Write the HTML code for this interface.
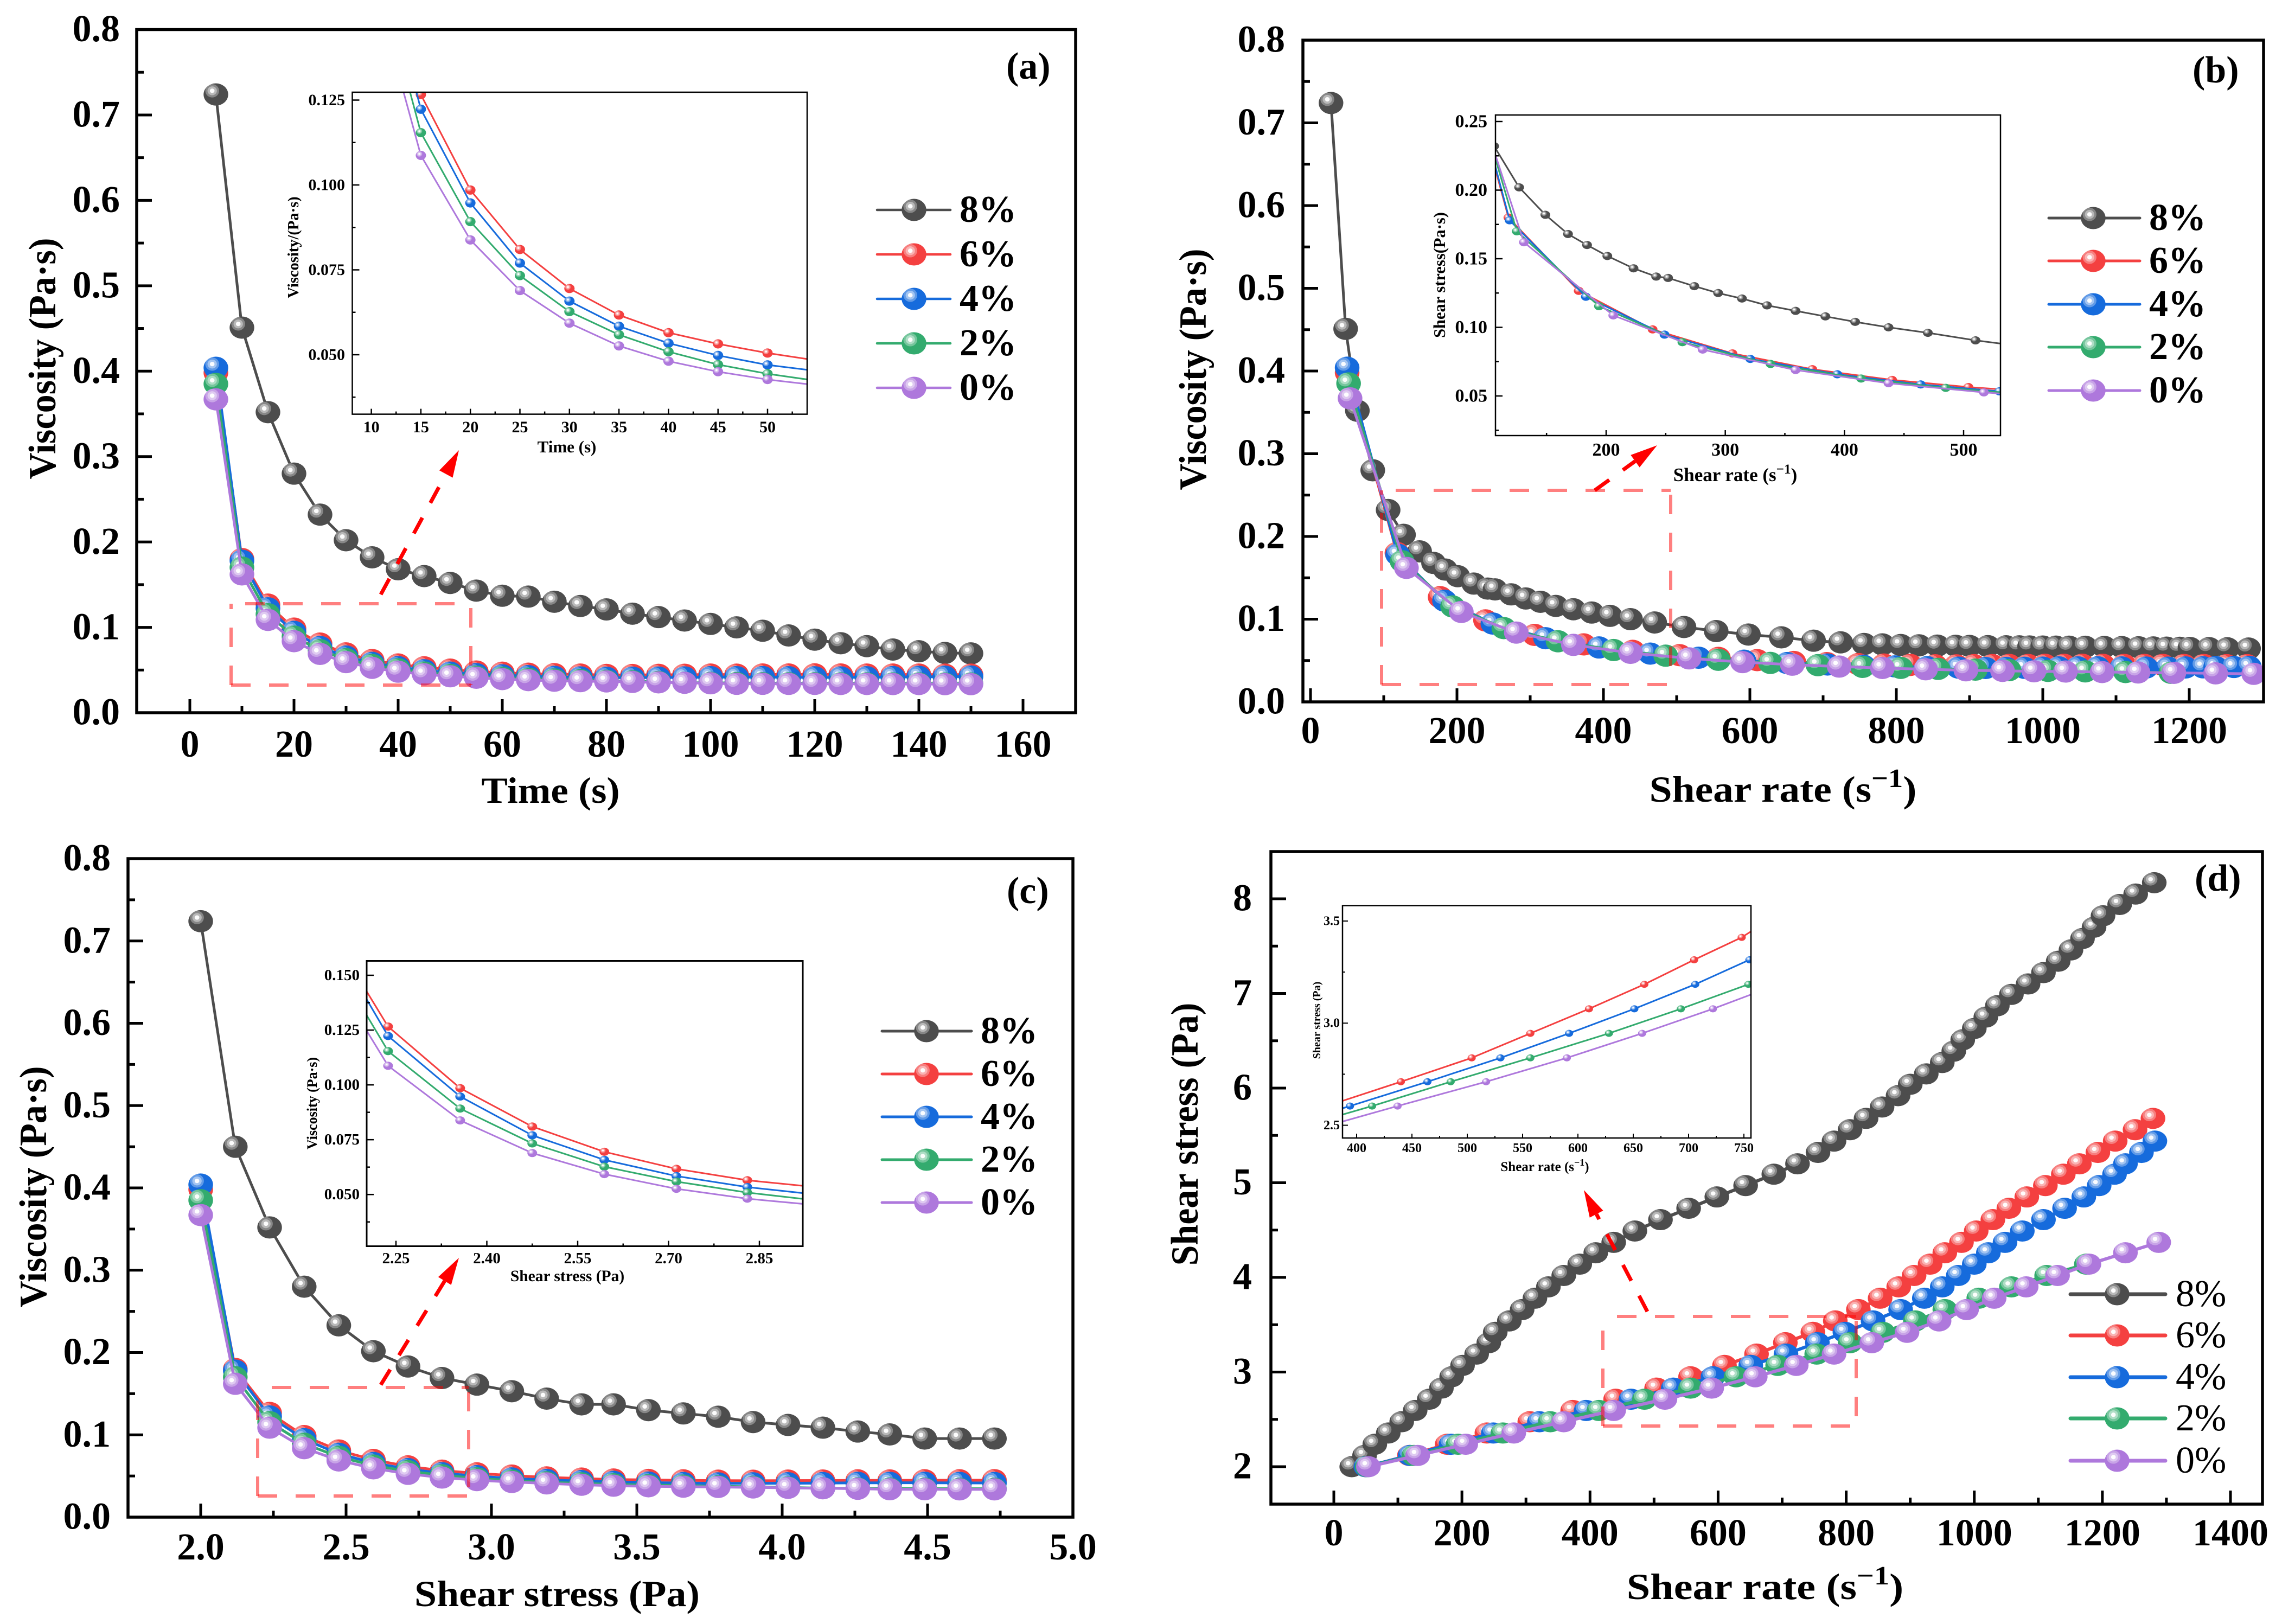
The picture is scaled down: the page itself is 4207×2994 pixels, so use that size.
<!DOCTYPE html>
<html lang="en">
<head>
<meta charset="utf-8">
<title>Rheology figure: viscosity and shear stress</title>
<style>
html,body{margin:0;padding:0;background:#fff;}
svg{display:block;}
text{font-family:"Liberation Serif",serif;font-weight:bold;fill:#000;}
</style>
</head>
<body>
<svg id="figure" xmlns="http://www.w3.org/2000/svg" width="4207" height="2994" viewBox="0 0 4207 2994"></svg>
<script>
/* ---------- shared data ---------- */
const seriesNames = ['8%','6%','4%','2%','0%'];
const time = [5,10,15,20,25,30,35,40,45,50,55,60,65,70,75,80,85,90,95,100,105,110,115,120,125,130,135,140,145,150];
const stress = [2.00,2.119,2.237,2.356,2.475,2.594,2.713,2.83,2.95,3.07,3.19,3.31,3.42,3.54,3.66,3.78,3.90,4.02,4.14,4.26,4.37,4.49,4.61,4.73,4.85,4.97,5.09,5.20,5.32,5.44,5.56,5.68,5.80,5.92,6.04,6.15,6.27,6.39,6.51,6.63,6.75,6.87,6.99,7.10,7.22,7.34,7.46,7.58,7.70,7.82,7.94,8.05,8.17];
const stressPanelC = [2.00,2.119,2.237,2.356,2.475,2.594,2.713,2.83,2.95,3.07,3.19,3.31,3.42,3.54,3.66,3.78,3.90,4.02,4.14,4.26,4.37,4.49,4.61,4.73];

const visc8 = [.724,.451,.352,.280,.232,.202,.182,.168,.160,.152,.143,.137,.136,.130,.125,.121,.116,.112,.108,.104,.100,.096,.0905,.0856,.0814,.078,.074,.072,.070,.0695,.0688,.0684,.068,.0678,.0676,.0674,.0672,.0671,.067,.0669,.0668,.0667,.0666,.0664,.0662,.066,.0658,.0656,.0654,.0652,.065,.0648,.0645];
const visc8PanelC = [.724,.450,.352,.280,.233,.2016,.183,.169,.161,.153,.144,.137,.137,.130,.126,.122,.1155,.112,.1087,.104,.1005,.0955,.0955,.0955];
const visc6 = [.398,.180,.1266,.0985,.081,.0695,.0617,.0565,.0532,.0505,.0483,.0469,.0457,.0452,.0447,.0443,.0442,.0444,.0445,.0447,.0446,.0448,.0448,.0449,.0448,.0447,.0447,.0447,.0446,.0446,.0444,.0444];
const visc4 = [.404,.178,.1223,.0947,.077,.0658,.0584,.0534,.0498,.047,.0452,.0438,.0429,.042,.0414,.041,.0411,.0412,.0414,.0417,.0417,.0418,.0416,.0415,.0414,.0416,.0418,.0421,.0422,.0424];
const visc2 = [.385,.170,.1154,.0892,.0733,.0627,.0559,.0509,.0471,.0444,.0423,.0411,.0399,.039,.0384,.0375,.0369,.0361,.0352,.035,.0348,.0346,.0345,.0345,.0344,.0344,.0343,.0343,.0342,.0342];
const visc0 = [.367,.162,.1087,.0838,.0689,.0593,.0526,.0481,.045,.0427,.041,.0394,.0382,.0375,.037,.0367,.0361,.0356,.0351,.0345,.0339,.0339,.0338,.0338,.0337,.0337,.0336,.0336,.0335,.0335];

const rate8 = [28,48,64,85,106,127,149,168,184,201,223,242,252,274,294,314,335,359,384,409,437,470,510,554,598,643,687,724,756,781,806,831,856,881,900,925,950,968,982,1000,1018,1036,1058,1084,1108,1131,1151,1169,1187,1201,1227,1252,1281];
const rate6 = [50,118,177,239,306,373,440,504,557,610,660,705,748,783,819,853,882,906,931,954,980,1003,1029,1054,1082,1111,1139,1164,1193,1220,1251,1279];
const rate4 = [50,119,183,249,321,394,464,530,592,651,706,755,798,842,885,922,950,975,1000,1022,1048,1075,1108,1141,1171,1195,1219,1236,1261,1282];
const rate2 = [52,125,194,264,338,414,485,557,628,693,754,806,857,908,954,1007,1058,1113,1175];
const rate0 = [54,131,206,281,359,437,517,590,658,722,781,840,895,945,988,1031,1081,1130,1179,1236,1288];

/* ---------- tick arrays ---------- */
const viscTicks = [0,.1,.2,.3,.4,.5,.6,.7,.8];
const viscTickLabels = ['0.0','0.1','0.2','0.3','0.4','0.5','0.6','0.7','0.8'];
const viscMinor = [.05,.15,.25,.35,.45,.55,.65,.75];

const timeTicks = [0,20,40,60,80,100,120,140,160];
const timeTickLabels = ['0','20','40','60','80','100','120','140','160'];
const timeMinor = [10,30,50,70,90,110,130,150];

const rateTicksB = [0,200,400,600,800,1000,1200];
const rateTickLabelsB = ['0','200','400','600','800','1000','1200'];
const rateMinorB = [100,300,500,700,900,1100];

const stressTicks = [2,2.5,3,3.5,4,4.5,5];
const stressTickLabels = ['2.0','2.5','3.0','3.5','4.0','4.5','5.0'];
const stressMinor = [2.25,2.75,3.25,3.75,4.25,4.75];

const rateTicksD = [0,200,400,600,800,1000,1200,1400];
const rateTickLabelsD = ['0','200','400','600','800','1000','1200','1400'];
const rateMinorD = [100,300,500,700,900,1100,1300];
const shearTicksD = [2,3,4,5,6,7,8];
const shearTickLabelsD = ['2','3','4','5','6','7','8'];
const shearMinorD = [2.5,3.5,4.5,5.5,6.5,7.5];

const insetATicksX = [10,15,20,25,30,35,40,45,50];
const insetATickLabelsX = ['10','15','20','25','30','35','40','45','50'];
const insetAMinorX = [12.5,17.5,22.5,27.5,32.5,37.5,42.5,47.5,52.5];
const insetATicksY = [.05,.075,.1,.125];
const insetATickLabelsY = ['0.050','0.075','0.100','0.125'];
const insetAMinorY = [.0375,.0625,.0875,.1125];

const insetBTicksX = [200,300,400,500];
const insetBTickLabelsX = ['200','300','400','500'];
const insetBMinorX = [150,250,350,450];
const insetBTicksY = [.05,.1,.15,.2,.25];
const insetBTickLabelsY = ['0.05','0.10','0.15','0.20','0.25'];
const insetBMinorY = [.025,.075,.125,.175,.225];

const insetCTicksX = [2.25,2.4,2.55,2.7,2.85];
const insetCTickLabelsX = ['2.25','2.40','2.55','2.70','2.85'];
const insetCMinorX = [2.325,2.475,2.625,2.775];
const insetCTicksY = [.05,.075,.1,.125,.15];
const insetCTickLabelsY = ['0.050','0.075','0.100','0.125','0.150'];
const insetCMinorY = [.0375,.0625,.0875,.1125,.1375];

const insetDTicksX = [400,450,500,550,600,650,700,750];
const insetDTickLabelsX = ['400','450','500','550','600','650','700','750'];
const insetDMinorX = [425,475,525,575,625,675,725];
const insetDTicksY = [2.5,3,3.5];
const insetDTickLabelsY = ['2.5','3.0','3.5'];
const insetDMinorY = [2.75,3.25];

/* ---------- style constants ---------- */
const seriesColors = ['#4d4d4d','#f44040','#166bdc','#33ab6e','#ae78dc'];
const NS = 'http://www.w3.org/2000/svg';
const fig = document.getElementById('figure');
let clipCount = 0;

function make(tag, parent, attrs) {
  const e = document.createElementNS(NS, tag);
  for (const k in attrs) e.setAttribute(k, attrs[k]);
  parent.appendChild(e);
  return e;
}

function scale(a, pa, b, pb) {
  return v => pa + (v - a) * (pb - pa) / (b - a);
}

function drawText(parent, str, x, y, size, anchor, name, opts) {
  opts = opts || {};
  const sx = opts.sx || 1;
  const sy = opts.sy || 1;
  const rot = opts.rot ? ' rotate(' + opts.rot + ')' : '';
  const t = make('text', parent, {
    transform: 'translate(' + x + ',' + y + ')' + rot + ' scale(' + sx + ',' + sy + ')',
    'font-size': size,
    'text-anchor': anchor
  });
  if (opts.regular) t.style.fontWeight = 'normal';
  
  
  if (opts.sup) {
    const a = make('tspan', t, {});
    a.textContent = str;
    
    
    const b = make('tspan', t, {'font-size': size * 0.72, dy: -size * 0.4});
    b.textContent = '\u22121';
    
    
    const c = make('tspan', t, {'font-size': size, dy: size * 0.4});
    c.textContent = ')';
    
    
  } else {
    t.textContent = str;
  }
  return t;
}

function drawMarker(parent, cx, cy, rx, ry, color, name) {
  const g = make('g', parent, {});
  
  
  const base = make('ellipse', g, {cx: cx, cy: cy, rx: rx, ry: ry, fill: color});
  
  
  const hx = cx - rx * 0.3;
  const hy = cy - ry * 0.33;
  const outer = make('ellipse', g, {cx: hx, cy: hy, rx: rx * 0.56, ry: ry * 0.6, fill: '#fff', 'fill-opacity': 0.33});
  
  
  const mid = make('ellipse', g, {cx: hx, cy: hy, rx: rx * 0.38, ry: ry * 0.4, fill: '#fff', 'fill-opacity': 0.42});
  
  
  const inner = make('ellipse', g, {cx: hx, cy: hy, rx: rx * 0.19, ry: ry * 0.2, fill: '#fff', 'fill-opacity': 0.95});
  
  
}

function drawSeries(parent, seriesList, xs, ys, cfg, prefix) {
  seriesList.forEach((s, k) => {
    const g = make('g', parent, {});
    
    
    const n = Math.min(s.x.length, s.y.length);
    const pts = [];
    for (let i = 0; i < n; i++) pts.push(xs(s.x[i]).toFixed(1) + ',' + ys(s.y[i]).toFixed(1));
    const line = make('polyline', g, {points: pts.join(' '), fill: 'none', stroke: seriesColors[k], 'stroke-width': cfg.lw, 'stroke-linejoin': 'round'});
    
    
    for (let i = 0; i < n; i++) {
      drawMarker(g, xs(s.x[i]), ys(s.y[i]), cfg.rx, cfg.ry, seriesColors[k], prefix + '-point');
    }
  });
}

function drawTicks(parent, vals, scaleFn, horizontal, edge, len, width, name) {
  vals.forEach(v => {
    const p = scaleFn(v);
    const l = horizontal
      ? make('line', parent, {x1: p, x2: p, y1: edge, y2: edge - len, stroke: '#000', 'stroke-width': width})
      : make('line', parent, {x1: edge, x2: edge + len, y1: p, y2: p, stroke: '#000', 'stroke-width': width});
    
    
  });
}

function drawAxes(group, box, xs, ys, ax, st, prefix) {
  const f = make('rect', group, {x: box.l, y: box.t, width: box.r - box.l, height: box.b - box.t, fill: 'none', stroke: '#000', 'stroke-width': st.frame});
  
  
  drawTicks(group, ax.xTicks, xs, true, box.b, st.xMajor, st.tick, prefix + '-x-major-tick');
  drawTicks(group, ax.xMinor, xs, true, box.b, st.xMinor, st.tick, prefix + '-x-minor-tick');
  drawTicks(group, ax.yTicks, ys, false, box.l, st.yMajor, st.tick, prefix + '-y-major-tick');
  drawTicks(group, ax.yMinor, ys, false, box.l, st.yMinor, st.tick, prefix + '-y-minor-tick');
  ax.xTicks.forEach((v, i) => {
    drawText(group, ax.xLabels[i], xs(v), st.xLabelY, st.font, 'middle', prefix + '-x-tick-label');
  });
  ax.yTicks.forEach((v, i) => {
    drawText(group, ax.yLabels[i], st.yLabelX, ys(v) + st.font * 0.31, st.font, 'end', prefix + '-y-tick-label');
  });
}

function clipped(parent, box) {
  const id = 'clip' + (clipCount++);
  const cp = make('clipPath', parent, {id: id});
  make('rect', cp, {x: box.l, y: box.t, width: box.r - box.l, height: box.b - box.t});
  return make('g', parent, {'clip-path': 'url(#' + id + ')'});
}

function drawBoxAndArrow(parent, b, a, prefix) {
  const boxG = make('g', parent, {fill: 'none', stroke: '#ff0000', 'stroke-opacity': 0.5, 'stroke-width': 6});
  
  
  const dash = '36 34';
  const left = make('line', boxG, {x1: b.l, y1: b.b, x2: b.l, y2: b.t, 'stroke-dasharray': dash});
  
  
  const bottom = make('line', boxG, {x1: b.l, y1: b.b, x2: b.r, y2: b.b, 'stroke-dasharray': dash});
  
  
  const top = make('line', boxG, {x1: b.l + 26, y1: b.t, x2: b.r, y2: b.t, 'stroke-dasharray': dash});
  
  
  const right = make('line', boxG, {x1: b.r, y1: b.t + 8, x2: b.r, y2: b.b, 'stroke-dasharray': dash});
  
  

  const dx = a.x2 - a.x1, dy = a.y2 - a.y1, len = Math.hypot(dx, dy);
  const ux = dx / len, uy = dy / len;
  const headLen = 50, headHalf = 14;
  const bx = a.x2 - ux * headLen, by = a.y2 - uy * headLen;
  const g = make('g', parent, {});
  
  
  const shaft = make('line', g, {x1: a.x1, y1: a.y1, x2: bx, y2: by, stroke: '#ff0000', 'stroke-width': 7, 'stroke-dasharray': '33 31'});
  
  
  const head = make('polygon', g, {
    points: a.x2 + ',' + a.y2 + ' ' + (bx - uy * headHalf) + ',' + (by + ux * headHalf) + ' ' + (bx + uy * headHalf) + ',' + (by - ux * headHalf),
    fill: '#ff0000'
  });
  
  
}

function drawLegend(parent, lg, prefix) {
  const g = make('g', parent, {});
  
  
  seriesNames.forEach((label, k) => {
    const e = make('g', g, {});
    
    
    const y = lg.ys[k];
    const l = make('line', e, {x1: lg.x1, x2: lg.x2, y1: y, y2: y, stroke: seriesColors[k], 'stroke-width': lg.lw, 'stroke-linecap': 'round'});
    
    
    drawMarker(e, lg.mx, y, 22.7, 20.5, seriesColors[k], 'legend-marker');
    drawText(e, label, lg.tx, y + 22, 70, 'start', 'legend-label', {regular: lg.regular});
  });
}

function drawPanel(cfg) {
  const g = make('g', fig, {});
  
  
  const p = 'panel-' + cfg.id;

  /* main plot */
  const xs = scale(cfg.xRef[0], cfg.xRef[1], cfg.xRef[2], cfg.xRef[3]);
  const ys = scale(cfg.yRef[0], cfg.yRef[1], cfg.yRef[2], cfg.yRef[3]);
  const plot = clipped(g, cfg.box);
  
  
  drawSeries(plot, cfg.series, xs, ys, {lw: cfg.lw, rx: 22.7, ry: cfg.ry}, p);
  drawAxes(g, cfg.box, xs, ys, cfg.axes, cfg.axStyle, p);

  /* titles */
  drawText(g, cfg.xTitle.text, cfg.xTitle.x, cfg.xTitle.y, 68, 'middle', p + '-x-axis-title', {sx: cfg.xTitle.sx, sup: cfg.xTitle.sup});
  drawText(g, cfg.yTitle.text, cfg.yTitle.x, cfg.yTitle.y, 68, 'middle', p + '-y-axis-title', {rot: -90, sy: 1.05});
  drawText(g, cfg.tag.text, cfg.tag.x, cfg.tag.y, 70, 'start', p + '-letter-label');

  /* legend */
  drawLegend(g, cfg.legend, p);

  /* inset */
  const ins = cfg.inset;
  const ig = make('g', g, {});
  
  
  const ix = scale(ins.xRef[0], ins.xRef[1], ins.xRef[2], ins.xRef[3]);
  const iy = scale(ins.yRef[0], ins.yRef[1], ins.yRef[2], ins.yRef[3]);
  const iplot = clipped(ig, ins.box);
  
  
  drawSeries(iplot, ins.series || cfg.series, ix, iy, {lw: ins.lw, rx: ins.rx, ry: ins.ry}, p + '-inset');
  drawAxes(ig, ins.box, ix, iy, ins.axes, ins.axStyle, p + '-inset');
  drawText(ig, ins.xTitle.text, ins.xTitle.x, ins.xTitle.y, ins.xTitle.size, 'middle', p + '-inset-x-axis-title', {sup: ins.xTitle.sup});
  drawText(ig, ins.yTitle.text, ins.yTitle.x, ins.yTitle.y, ins.yTitle.size, 'middle', p + '-inset-y-axis-title', {rot: -90});

  /* zoom box + arrow */
  drawBoxAndArrow(g, cfg.zoomBox, cfg.arrow, p);
}

/* ---------- panel definitions ---------- */
const mainAxStyle = {frame: 5.5, tick: 5, xMajor: 25, xMinor: 12, yMajor: 28, yMinor: 13, font: 70};

function seriesFrom(xArrays, yArrays) {
  return seriesNames.map((label, k) => ({label: label, x: xArrays[k], y: yArrays[k]}));
}
const timeSeries = seriesFrom([time, time, time, time, time], [visc8, visc6, visc4, visc2, visc0]);
const rateViscSeries = seriesFrom([rate8, rate6, rate4, rate2, rate0], [visc8, visc6, visc4, visc2, visc0]);
const stressViscSeries = seriesFrom([stressPanelC, stressPanelC, stressPanelC, stressPanelC, stressPanelC], [visc8PanelC, visc6, visc4, visc2, visc0]);
const rateStressSeries = seriesFrom([rate8, rate6, rate4, rate2, rate0], [stress, stress, stress, stress, stress]);

drawPanel({
  id: 'a',
  box: {l: 252, r: 1983, t: 54.5, b: 1314},
  xRef: [0, 350, 160, 1886], yRef: [0, 1314, .8, 54.5],
  series: timeSeries, lw: 5, ry: 20.5,
  axes: {xTicks: timeTicks, xLabels: timeTickLabels, xMinor: timeMinor, yTicks: viscTicks, yLabels: viscTickLabels, yMinor: viscMinor},
  axStyle: Object.assign({}, mainAxStyle, {xLabelY: 1395, yLabelX: 221}),
  xTitle: {text: 'Time (s)', x: 1015, y: 1480, sx: 1.07},
  yTitle: {text: 'Viscosity (Pa\u00b7s)', x: 102, y: 661},
  tag: {text: '(a)', x: 1855, y: 145},
  legend: {x1: 1617, x2: 1752, mx: 1685, tx: 1769, lw: 4.5, ys: [387, 469, 551, 633, 715]},
  zoomBox: {l: 426, r: 868, t: 1113, b: 1263},
  arrow: {x1: 702, y1: 1096, x2: 846, y2: 830},
  inset: {
    box: {l: 649.5, r: 1488, t: 170, b: 763.6},
    xRef: [10, 684.6, 50, 1415], yRef: [.05, 654, .125, 184.5],
    lw: 3, rx: 9.5, ry: 8.5,
    axes: {xTicks: insetATicksX, xLabels: insetATickLabelsX, xMinor: insetAMinorX, yTicks: insetATicksY, yLabels: insetATickLabelsY, yMinor: insetAMinorY},
    axStyle: {frame: 2.5, tick: 2.5, xMajor: 10, xMinor: 5, yMajor: 13, yMinor: 6, font: 30, xLabelY: 797, yLabelX: 636},
    xTitle: {text: 'Time (s)', x: 1045, y: 834, size: 31},
    yTitle: {text: 'Viscosity/(Pa\u00b7s)', x: 550, y: 456, size: 28.5}
  }
});

drawPanel({
  id: 'b',
  box: {l: 2402, r: 4173, t: 74, b: 1294},
  xRef: [0, 2416, 1200, 4036], yRef: [0, 1294, .8, 74],
  series: rateViscSeries, lw: 5, ry: 20.5,
  axes: {xTicks: rateTicksB, xLabels: rateTickLabelsB, xMinor: rateMinorB, yTicks: viscTicks, yLabels: viscTickLabels, yMinor: viscMinor},
  axStyle: Object.assign({}, mainAxStyle, {xLabelY: 1370, yLabelX: 2369}),
  xTitle: {text: 'Shear rate (s', x: 3287, y: 1478, sx: 1.11, sup: true},
  yTitle: {text: 'Viscosity (Pa\u00b7s)', x: 2223, y: 681},
  tag: {text: '(b)', x: 4042, y: 152},
  legend: {x1: 3777, x2: 3945, mx: 3859, tx: 3962, lw: 5, ys: [402, 481, 561, 640, 720]},
  zoomBox: {l: 2547, r: 3080, t: 904, b: 1262},
  arrow: {x1: 2940, y1: 904, x2: 3055, y2: 821},
  inset: {
    box: {l: 2757, r: 3688, t: 212, b: 803},
    xRef: [200, 2961, 500, 3620], yRef: [.05, 730, .25, 224],
    lw: 3, rx: 9, ry: 7.5,
    axes: {xTicks: insetBTicksX, xLabels: insetBTickLabelsX, xMinor: insetBMinorX, yTicks: insetBTicksY, yLabels: insetBTickLabelsY, yMinor: insetBMinorY},
    axStyle: {frame: 2.5, tick: 2.5, xMajor: 10, xMinor: 5, yMajor: 13, yMinor: 6, font: 34, xLabelY: 840, yLabelX: 2742},
    xTitle: {text: 'Shear rate (s', x: 3199, y: 887, size: 35, sup: true},
    yTitle: {text: 'Shear stress(Pa\u00b7s)', x: 2664, y: 507, size: 30.5}
  }
});

drawPanel({
  id: 'c',
  box: {l: 236, r: 1978, t: 1583, b: 2797},
  xRef: [2, 370, 5, 1978], yRef: [0, 2797, .8, 1583],
  series: stressViscSeries, lw: 5, ry: 20.5,
  axes: {xTicks: stressTicks, xLabels: stressTickLabels, xMinor: stressMinor, yTicks: viscTicks, yLabels: viscTickLabels, yMinor: viscMinor},
  axStyle: Object.assign({}, mainAxStyle, {xLabelY: 2875, yLabelX: 204}),
  xTitle: {text: 'Shear stress (Pa)', x: 1027, y: 2961, sx: 1.085},
  yTitle: {text: 'Viscosity (Pa\u00b7s)', x: 85, y: 2188},
  tag: {text: '(c)', x: 1856, y: 1665},
  legend: {x1: 1626, x2: 1791, mx: 1708, tx: 1808, lw: 5, ys: [1901, 1980, 2059, 2138, 2217]},
  zoomBox: {l: 475, r: 864, t: 2558, b: 2758},
  arrow: {x1: 702, y1: 2553, x2: 846, y2: 2319},
  inset: {
    box: {l: 676, r: 1480, t: 1771.5, b: 2297.5},
    xRef: [2.25, 730, 2.85, 1400], yRef: [.05, 2202.2, .15, 1798],
    lw: 3, rx: 9, ry: 7.5,
    axes: {xTicks: insetCTicksX, xLabels: insetCTickLabelsX, xMinor: insetCMinorX, yTicks: insetCTicksY, yLabels: insetCTickLabelsY, yMinor: insetCMinorY},
    axStyle: {frame: 3, tick: 2.5, xMajor: 10, xMinor: 5, yMajor: 13, yMinor: 6, font: 29, xLabelY: 2329, yLabelX: 663},
    xTitle: {text: 'Shear stress (Pa)', x: 1046, y: 2362, size: 29.5},
    yTitle: {text: 'Viscosity (Pa\u00b7s)', x: 584, y: 2034, size: 26}
  }
});

drawPanel({
  id: 'd',
  box: {l: 2343, r: 4171, t: 1570, b: 2773},
  xRef: [0, 2459, 1400, 4112], yRef: [2, 2704, 8, 1657],
  series: rateStressSeries, lw: 6, ry: 19.5,
  axes: {xTicks: rateTicksD, xLabels: rateTickLabelsD, xMinor: rateMinorD, yTicks: shearTicksD, yLabels: shearTickLabelsD, yMinor: shearMinorD},
  axStyle: Object.assign({}, mainAxStyle, {xLabelY: 2849, yLabelX: 2308}),
  xTitle: {text: 'Shear rate (s', x: 3254, y: 2948, sx: 1.15, sup: true},
  yTitle: {text: 'Shear stress (Pa)', x: 2208, y: 2091},
  tag: {text: '(d)', x: 4046, y: 1642},
  legend: {x1: 3817, x2: 3992, mx: 3903, tx: 4011, lw: 7, regular: true, ys: [2386, 2462, 2539, 2615, 2693]},
  zoomBox: {l: 2955, r: 3422, t: 2427, b: 2629},
  arrow: {x1: 3037, y1: 2418, x2: 2920, y2: 2194},
  inset: {
    box: {l: 2475, r: 3228, t: 1669.6, b: 2098},
    xRef: [500, 2705, 750, 3215], yRef: [2.5, 2074.5, 3.5, 1698],
    lw: 3, rx: 7.5, ry: 6.5,
    axes: {xTicks: insetDTicksX, xLabels: insetDTickLabelsX, xMinor: insetDMinorX, yTicks: insetDTicksY, yLabels: insetDTickLabelsY, yMinor: insetDMinorY},
    axStyle: {frame: 2.5, tick: 2, xMajor: 8, xMinor: 4, yMajor: 10, yMinor: 5, font: 24, xLabelY: 2124, yLabelX: 2470},
    xTitle: {text: 'Shear rate (s', x: 2848, y: 2159, size: 25, sup: true},
    yTitle: {text: 'Shear stress (Pa)', x: 2434, y: 1881, size: 20}
  }
});
</script>
</body>
</html>
